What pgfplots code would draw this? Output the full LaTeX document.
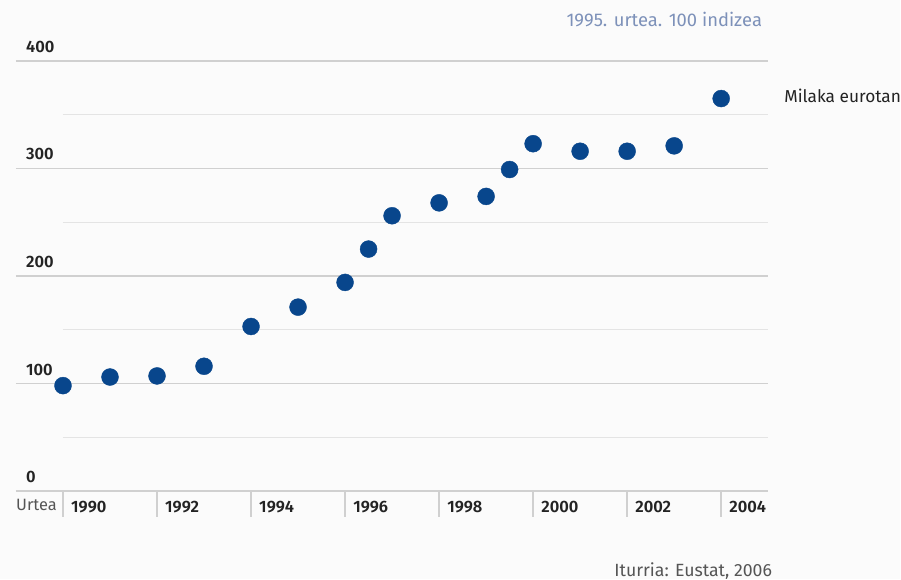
\documentclass[border=0pt]{standalone}
\usepackage{fontspec}
\setmainfont{Fira Sans}
\newfontfamily\numfont{Fira Sans SemiBold}
\usepackage{pgfplots}
\pgfplotsset{compat=1.18}
\definecolor{dotblue}{RGB}{8,70,140}
\definecolor{gridgray}{RGB}{208,208,208}
\definecolor{minorgray}{RGB}{228,228,228}
\definecolor{titleblue}{RGB}{125,145,185}
\definecolor{bg}{RGB}{251,251,251}
\definecolor{txt}{RGB}{35,35,35}
\definecolor{txtgray}{RGB}{85,85,85}
\begin{document}
\begin{tikzpicture}
\fill[bg] (0pt,0pt) rectangle (901pt,580pt);
\begin{axis}[
  at={(16pt,88.5pt)}, anchor=south west,
  scale only axis, width=753pt, height=430.5pt,
  xmin=1989, xmax=2005, ymin=0, ymax=400,
  axis line style={draw=none},
  xtick={1990,1992,...,2004},
  xticklabels={1990,1992,1994,1996,1998,2000,2002,2004},
  ytick={0,100,200,300,400},
  yticklabels={0,100,200,300,400},
  xtick pos=bottom, ytick pos=left,
  major tick length=0pt,
  tick style={draw=none},
  ymajorgrids, y grid style={gridgray, line width=1.2pt},
  xticklabel style={anchor=north west, inner sep=0pt, xshift=8pt, yshift=-10pt, font=\numfont\fontsize{16.5}{20}\selectfont, text=txt},
  yticklabel style={anchor=south west, inner sep=0pt, xshift=10pt, yshift=8pt, font=\numfont\fontsize{16.5}{20}\selectfont, text=txt},
  clip=false,
]
\draw[gridgray, line width=2pt] (axis cs:1989,0) -- (axis cs:2005,0);
\draw[minorgray, line width=1pt] (axis cs:1990,50) -- (axis cs:2005,50);
\draw[minorgray, line width=1pt] (axis cs:1990,150) -- (axis cs:2005,150);
\draw[minorgray, line width=1pt] (axis cs:1990,250) -- (axis cs:2005,250);
\draw[minorgray, line width=1pt] (axis cs:1990,350) -- (axis cs:2005,350);
\draw[gridgray, line width=1.5pt] (axis cs:1990,0) -- ++(0pt,-26pt);
\draw[gridgray, line width=1.5pt] (axis cs:1992,0) -- ++(0pt,-26pt);
\draw[gridgray, line width=1.5pt] (axis cs:1994,0) -- ++(0pt,-26pt);
\draw[gridgray, line width=1.5pt] (axis cs:1996,0) -- ++(0pt,-26pt);
\draw[gridgray, line width=1.5pt] (axis cs:1998,0) -- ++(0pt,-26pt);
\draw[gridgray, line width=1.5pt] (axis cs:2000,0) -- ++(0pt,-26pt);
\draw[gridgray, line width=1.5pt] (axis cs:2002,0) -- ++(0pt,-26pt);
\draw[gridgray, line width=1.5pt] (axis cs:2004,0) -- ++(0pt,-26pt);
\addplot[only marks, mark=*, mark size=8.5pt, color=dotblue, mark options={draw=dotblue, fill=dotblue}] coordinates {
(1990,98)(1991,106)(1992,107)(1993,116)(1994,153)(1995,171)(1996,194)(1996.5,225)(1997,256)(1998,268)(1999,274)(1999.5,299)(2000,323)(2001,316)(2002,316)(2003,321)(2004,365)
};
\node[anchor=north west, inner sep=0pt, text=txtgray, font=\fontsize{16.4}{19}\selectfont] at (axis cs:1989,0) [yshift=-8pt] {Urtea};
\end{axis}
\node[anchor=base east, inner sep=0pt, text=titleblue, font=\fontsize{18.4}{21}\selectfont] at (763pt,553.5pt) {1995. urtea. 100 indizea};
\node[anchor=base west, inner sep=0pt, text=txt, font=\fontsize{17.3}{20}\selectfont] at (785pt,477pt) {Milaka eurotan};
\node[anchor=base east, inner sep=0pt, text=txtgray, font=\fontsize{17.7}{20}\selectfont] at (773pt,2.5pt) {Iturria: Eustat, 2006};
\end{tikzpicture}
\end{document}
